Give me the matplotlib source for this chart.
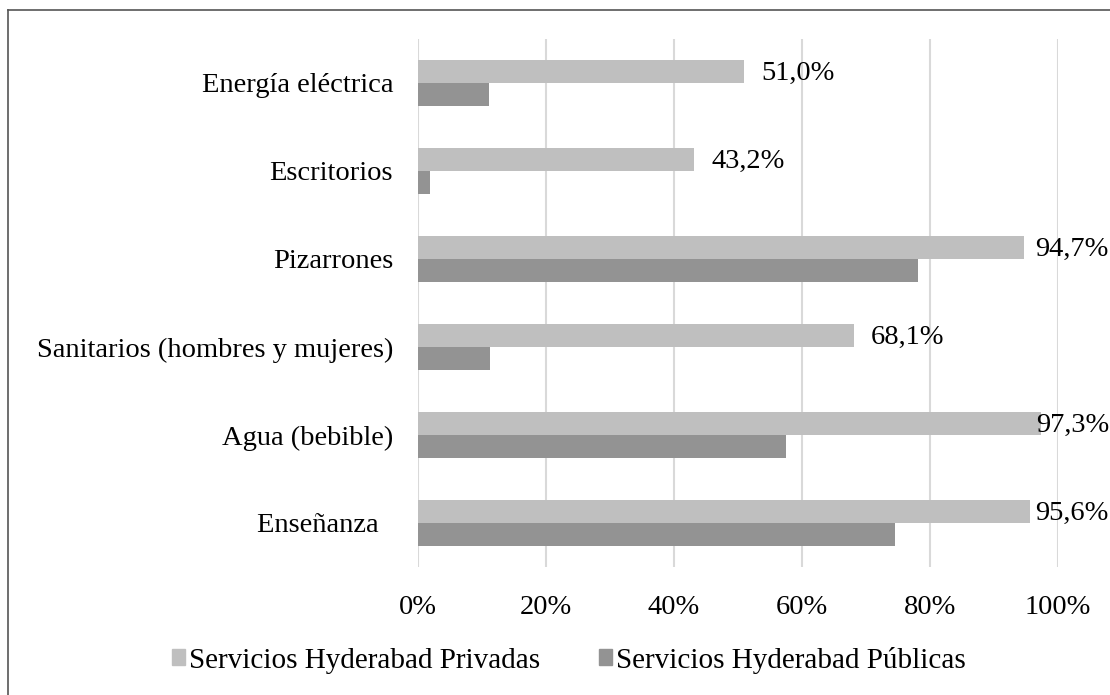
import numpy as np
import matplotlib.pyplot as plt
from matplotlib.lines import Line2D
from matplotlib.patches import Patch

categorias = ["Energía eléctrica", "Escritorios", "Pizarrones",
              "Sanitarios (hombres y mujeres)", "Agua (bebible)", "Enseñanza  "]
privadas = [51.0, 43.2, 94.7, 68.1, 97.3, 95.6]
publicas = [11.1, 1.9, 78.1, 11.3, 57.5, 74.6]
etiquetas_priv = ["51,0%", "43,2%", "94,7%", "68,1%", "97,3%", "95,6%"]
xticks = [0, 20, 40, 60, 80, 100]
xtick_labels = ["0%", "20%", "40%", "60%", "80%", "100%"]
series = ["Servicios Hyderabad Privadas", "Servicios Hyderabad Públicas"]

c_priv = "#bfbfbf"
c_pub = "#939393"

plt.rcParams["font.family"] = ["Liberation Serif", "DejaVu Serif"]
plt.rcParams["font.size"] = 20.5

W, H = 1110, 695
fig = plt.figure(figsize=(W / 100, H / 100), dpi=100)
ax = fig.add_axes([418 / W, (H - 567) / H, (1058 - 418) / W, (567 - 39) / H])

y = np.arange(len(categorias))
h = 0.258
ax.barh(y - h / 2, privadas, height=h, color=c_priv, zorder=2)
ax.barh(y + h / 2, publicas, height=h, color=c_pub, zorder=2)

anots = []
for yi, v, lab in zip(y, privadas, etiquetas_priv):
    a = ax.annotate(lab, (v, yi - h / 2), xytext=(12, -1.5), textcoords="offset points",
                    ha="left", va="center", clip_on=False, zorder=3)
    anots.append(a)

ax.set_xlim(0, 100)
ax.set_ylim(len(categorias) - 0.5, -0.5)
ax.set_xticks(xticks)
ax.set_xticklabels(xtick_labels)
ax.set_yticks(y)
ax.set_yticklabels(categorias)
ax.tick_params(axis="both", length=0)
ax.tick_params(axis="y", pad=18)
ax.tick_params(axis="x", pad=20)
ax.grid(axis="x", color="#d9d9d9", linewidth=1.5, zorder=0)
ax.set_axisbelow(True)
for s in ax.spines.values():
    s.set_visible(False)

handles = [Patch(color=c_priv), Patch(color=c_pub)]
fig.legend(handles, series, loc="center", bbox_to_anchor=(569 / W, (H - 660) / H),
           ncol=2, frameon=False, handlelength=0.45, handleheight=0.45,
           handletextpad=0.15, columnspacing=2.0, fontsize=21)

# marco exterior (solo visible arriba e izquierda)
fig.add_artist(Line2D([8 / W, 1], [(H - 10) / H, (H - 10) / H], color="#555555", lw=1.2))
fig.add_artist(Line2D([8 / W, 8 / W], [0, (H - 10) / H], color="#555555", lw=1.2))

# como Excel: las etiquetas que no caben se corren hacia la izquierda
fig.canvas.draw()
r = fig.canvas.get_renderer()
for a in anots:
    bb = a.get_window_extent(r)
    extra = bb.x1 - (W - 1)
    if extra > 0:
        a.set_position((12 - extra * 72 / 100, -1.5))

fig.savefig("out.png", dpi=100)
